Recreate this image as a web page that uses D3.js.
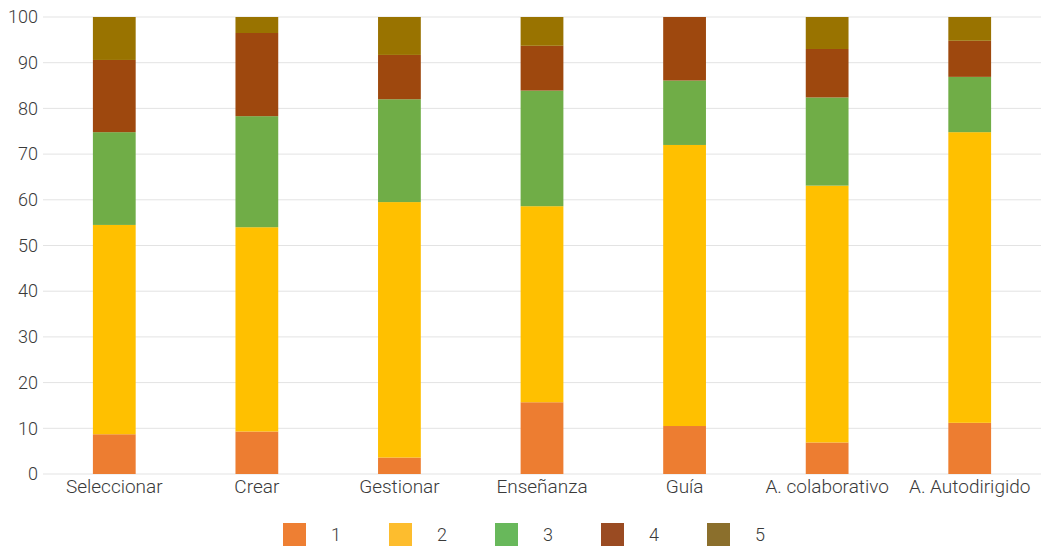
<!DOCTYPE html>
<html>
<head>
<meta charset="utf-8">
<script src="https://cdn.jsdelivr.net/npm/d3@7"></script>
<style>
  body { margin: 0; background: #fff; }
  svg text { font-family: Roboto, "Open Sans", sans-serif; font-weight: 300; fill: #3a3a3a; }
</style>
</head>
<body>
<div id="chart"></div>
<script>
var categories = ['Seleccionar', 'Crear', 'Gestionar', 'Enseñanza', 'Guía', 'A. colaborativo', 'A. Autodirigido'];
var seriesNames = ['1', '2', '3', '4', '5'];
var s1 = [8.7, 9.3, 3.6, 15.7, 10.5, 6.9, 11.2];
var s2 = [45.8, 44.7, 55.9, 42.9, 61.5, 56.2, 63.6];
var s3 = [20.3, 24.3, 22.5, 25.3, 14.1, 19.3, 12.1];
var s4 = [15.8, 18.2, 9.7, 9.8, 13.9, 10.6, 7.9];
var s5 = [9.4, 3.5, 8.3, 6.3, 0, 7.0, 5.2];
var yTicks = [0, 10, 20, 30, 40, 50, 60, 70, 80, 90, 100];
var colors = ['#ED7D31', '#FFC000', '#70AD47', '#9E480E', '#997300'];
var legendColors = ['#EE7F33', '#FDBD2E', '#68B85B', '#9A4B22', '#8B6F2C'];

var width = 1043, height = 549;
var margin = { top: 17, right: 2, bottom: 75, left: 43 };

var rows = categories.map(function(c, i) {
  return { cat: c, '1': s1[i], '2': s2[i], '3': s3[i], '4': s4[i], '5': s5[i] };
});

var svg = d3.select('#chart').append('svg')
  .attr('width', width)
  .attr('height', height);

var x = d3.scaleBand()
  .domain(categories)
  .range([margin.left, width - margin.right]);

var y = d3.scaleLinear()
  .domain([0, 100])
  .range([height - margin.bottom, margin.top]);

// grid
svg.append('g')
  .selectAll('line')
  .data(yTicks)
  .enter().append('line')
  .attr('x1', margin.left)
  .attr('x2', width - margin.right)
  .attr('y1', function(d) { return y(d); })
  .attr('y2', function(d) { return y(d); })
  .style('stroke', '#e3e3e3')
  .style('stroke-width', 1);

var stacked = d3.stack().keys(seriesNames)(rows);
var barW = x.bandwidth() * 0.3;

svg.append('g')
  .selectAll('g')
  .data(stacked)
  .enter().append('g')
  .style('fill', function(d, i) { return colors[i]; })
  .selectAll('rect')
  .data(function(d) { return d; })
  .enter().append('rect')
  .attr('x', function(d) { return x(d.data.cat) + (x.bandwidth() - barW) / 2; })
  .attr('width', barW)
  .attr('y', function(d) { return y(d[1]); })
  .attr('height', function(d) { return y(d[0]) - y(d[1]); });

// y axis
var yAxis = svg.append('g')
  .attr('transform', 'translate(' + margin.left + ',0)')
  .call(d3.axisLeft(y).tickValues(yTicks).tickSize(0).tickPadding(5));
yAxis.select('.domain').remove();
yAxis.selectAll('text')
  .style('font-size', '18px')
  .style('font-family', 'Roboto, sans-serif');

// x axis
var xAxis = svg.append('g')
  .attr('transform', 'translate(0,' + (height - margin.bottom) + ')')
  .call(d3.axisBottom(x).tickSize(0).tickPadding(6));
xAxis.select('.domain').remove();
xAxis.selectAll('text')
  .style('font-size', '19px')
  .style('font-family', 'Roboto, sans-serif');

// legend
var legend = svg.append('g')
  .selectAll('g')
  .data(seriesNames)
  .enter().append('g')
  .attr('transform', function(d, i) { return 'translate(' + (283 + i * 106) + ',523)'; });

legend.append('rect')
  .attr('width', 23)
  .attr('height', 23)
  .style('fill', function(d, i) { return legendColors[i]; });

legend.append('text')
  .attr('x', 48)
  .attr('y', 11.5)
  .attr('dy', '0.35em')
  .style('font-size', '18px')
  .text(function(d) { return d; });
</script>
</body>
</html>
